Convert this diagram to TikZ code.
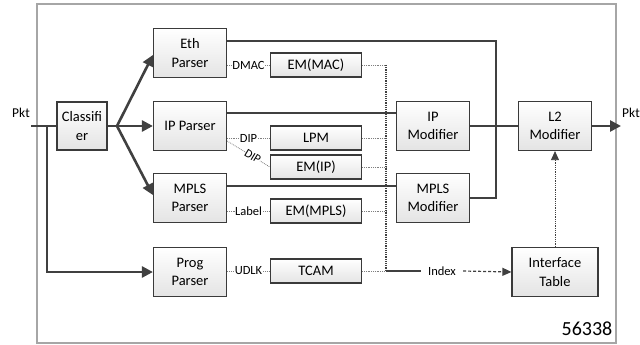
\documentclass[tikz,border=0pt]{standalone}
\usepackage{fontspec}
\setmainfont{Carlito}
\usetikzlibrary{arrows.meta}

\definecolor{boxline}{HTML}{3A3A3A}
\definecolor{busline}{HTML}{404040}
\definecolor{frameline}{HTML}{A6A6A6}
\definecolor{boxshade}{HTML}{E4E4E4}

\tikzset{
  box/.style={draw=boxline, line width=1.2pt, top color=white, bottom color=boxshade,
    minimum width=73pt, minimum height=49pt, inner sep=1pt, align=center,
    font=\fontsize{14.5}{18.5}\selectfont},
  table/.style={box, minimum width=91pt, minimum height=24pt},
  bus/.style={draw=busline, line width=2.6pt},
  busarrow/.style={bus, -{Triangle[length=11pt,width=11pt]}},
  lookup/.style={draw=gray, line width=0.8pt, densely dotted},
  lbl/.style={fill=white, inner sep=0.5pt, font=\fontsize{12.5}{14}\selectfont},
}

\begin{document}
\begin{tikzpicture}[x=1pt,y=-1pt]
\useasboundingbox (0,0) rectangle (640,345);
% frame
\draw[frameline, line width=1.6pt] (37,4) rectangle (616,343);

% parsers
\node[box, minimum width=50pt, minimum height=48pt] (cls) at (82,126) {Classifi\\er};
\node[box] (eth) at (190,53) {Eth\\Parser};
\node[box] (ipp) at (190,126) {IP Parser};
\node[box] (mpls) at (190,198) {MPLS\\Parser};
\node[box] (prog) at (190,272) {Prog\\Parser};

% tables
\node[table] (emmac) at (316,65) {EM(MAC)};
\node[table] (lpm) at (316,138) {LPM};
\node[table] (emip) at (316,167) {EM(IP)};
\node[table] (emmpls) at (316,211) {EM(MPLS)};
\node[table] (tcam) at (316,271) {TCAM};

% modifiers
\node[box] (ipmod) at (433,126) {IP\\Modifier};
\node[box] (mplsmod) at (433,198) {MPLS\\Modifier};
\node[box] (l2mod) at (555,126) {L2\\Modifier};
\node[box, minimum width=86pt] (iftab) at (555,272) {Interface\\Table};

% labels
\node[lbl, fill=none, font=\fontsize{13.5}{15}\selectfont] (pktin) at (21,113) {Pkt};
\node[lbl, fill=none, font=\fontsize{13.5}{15}\selectfont] (pktout) at (631,113) {Pkt};
\node[lbl, inner xsep=7pt] (index) at (442,271) {Index};
\node[font=\fontsize{20}{24}\selectfont] (tag) at (587,329) {56338};

\coordinate (in) at (31,126);
\coordinate (split) at (47,126);
\coordinate (fan) at (117,126);
\coordinate (bend) at (496,198);
\coordinate (out) at (621,126);
\coordinate (idxtop) at (386,65);
\coordinate (idxbot) at (386,271);

% packet path
\draw[bus] (in) -- (cls.west);
\draw[busarrow] (split) |- (prog.west);
\draw[bus] (cls.east) -- (fan);
\draw[busarrow] (fan) -- ([yshift=-2pt]eth.west);
\draw[busarrow] (fan) -- (ipp.west);
\draw[busarrow] (fan) -- ([yshift=3pt]mpls.west);
\draw[bus] ([yshift=12pt]eth.east) -| (bend) -- (mplsmod.east);
\draw[bus] ([yshift=13pt]ipp.east) -- ([yshift=13pt]ipmod.west);
\draw[bus] ([yshift=12pt]mpls.east) -- ([yshift=12pt]mplsmod.west);
\draw[bus] (ipmod.east) -- (l2mod.west);
\draw[busarrow] (l2mod.east) -- (out);

% lookups
\draw[lookup] (eth.east |- emmac.west) -- node[lbl]{DMAC} (emmac.west);
\draw[lookup] (ipp.east |- lpm.west) -- node[lbl]{DIP} (lpm.west);
\draw[lookup] ([yshift=-3pt]ipp.east |- lpm.west) -- node[lbl, sloped, pos=0.6, inner sep=0pt, font=\fontsize{12}{13}\selectfont]{DIP} (emip.west);
\draw[lookup] (mpls.east |- emmpls.west) -- node[lbl]{Label} (emmpls.west);
\draw[lookup] (prog.east |- tcam.west) -- node[lbl]{UDLK} (tcam.west);

% results
\draw[lookup] (emmac.east) -- (idxtop);
\draw[lookup] (lpm.east) -- (lpm.east -| idxbot);
\draw[lookup] (emip.east) -- (emip.east -| idxbot);
\draw[lookup] (emmpls.east) -- (emmpls.east -| idxbot);
\draw[lookup] (tcam.east) -- (idxbot);
\draw[draw=busline, line width=1.2pt, densely dotted] (idxtop) -- (idxbot);
\draw[draw=busline, line width=1.2pt] (idxbot) -- (index.west);
\draw[draw=busline, line width=1.2pt, densely dashed, -{Triangle[length=9pt,width=8pt]}] (index.east) -- (iftab.west);
\draw[draw=busline, line width=0.8pt, densely dotted, -{Triangle[length=9pt,width=8pt]}] (iftab.north) -- (l2mod.south);
\end{tikzpicture}
\end{document}
